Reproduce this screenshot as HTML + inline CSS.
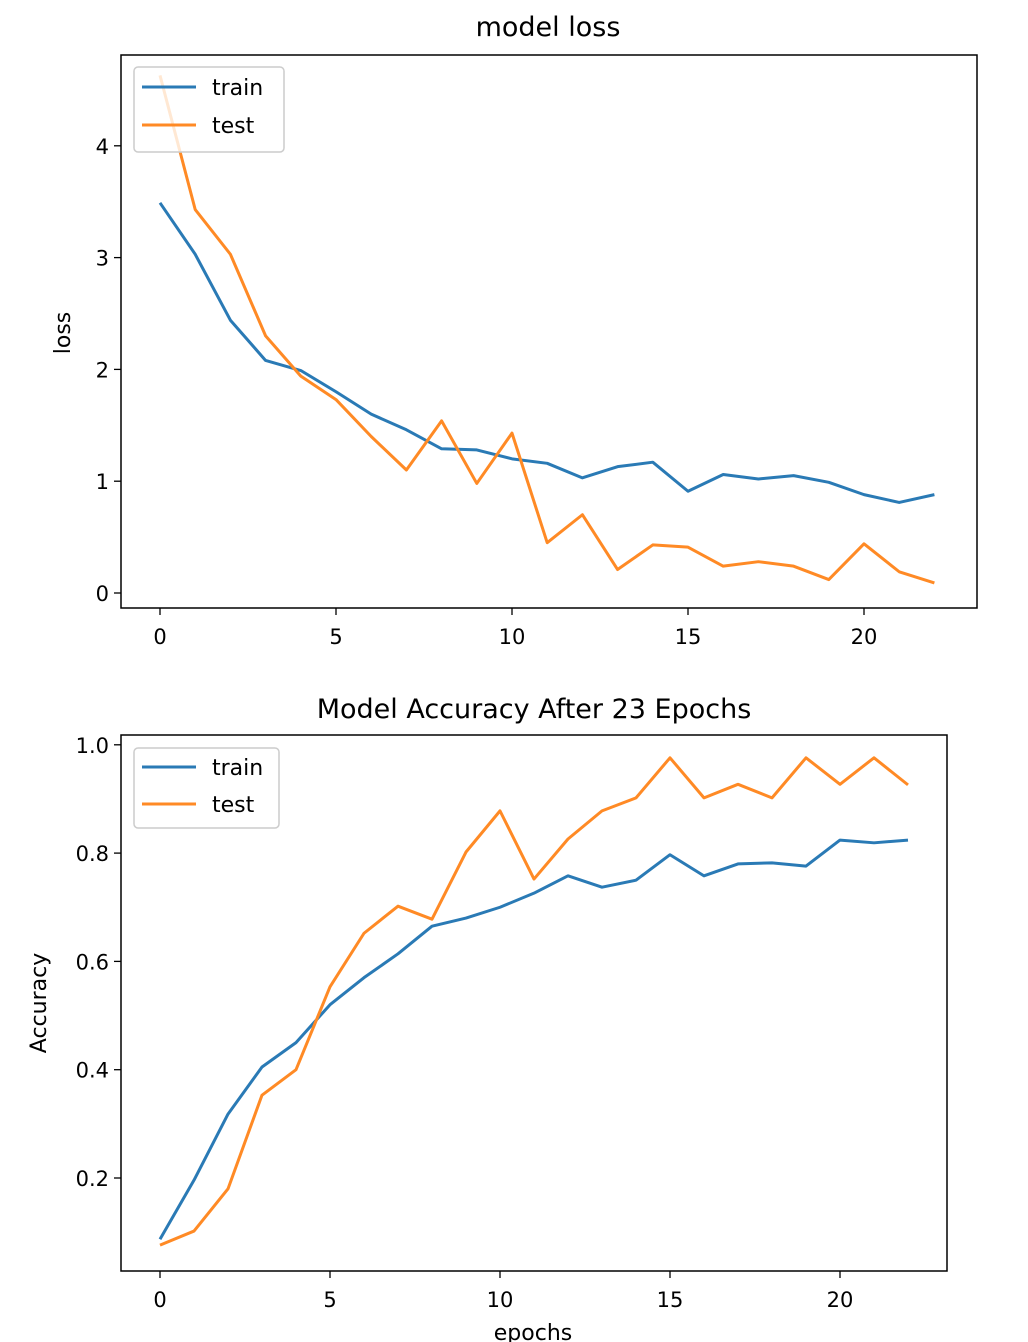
<!DOCTYPE html>
<html><head><meta charset="utf-8">
<style>
body{margin:0;background:#fff;}
svg{display:block;font-family:"DejaVu Sans","Liberation Sans",sans-serif;}
</style></head>
<body>
<svg id="chart" width="1028" height="1342"></svg>
<script>
const epochs=[...Array(23).keys()];
const lossTrain=[3.49,3.03,2.44,2.08,1.99,1.80,1.60,1.46,1.29,1.28,1.20,1.16,1.03,1.13,1.17,0.91,1.06,1.02,1.05,0.99,0.88,0.81,0.88];
const lossTest=[4.63,3.43,3.03,2.30,1.94,1.73,1.40,1.10,1.54,0.98,1.43,0.45,0.70,0.21,0.43,0.41,0.24,0.28,0.24,0.12,0.44,0.19,0.09];
const accTrain=[0.087,0.196,0.318,0.405,0.45,0.52,0.57,0.614,0.665,0.68,0.70,0.726,0.758,0.737,0.75,0.797,0.758,0.78,0.782,0.776,0.824,0.819,0.824];
const accTest=[0.076,0.102,0.18,0.353,0.40,0.553,0.652,0.702,0.678,0.802,0.878,0.752,0.826,0.878,0.902,0.976,0.902,0.927,0.902,0.976,0.927,0.976,0.926];
const xTicks=[0,5,10,15,20];
const lossYTicks=[0,1,2,3,4];
const accYTicks=[0.2,0.4,0.6,0.8,1.0];

const svg=document.getElementById('chart');
const NS='http://www.w3.org/2000/svg';
function mk(tag,attrs,parent){const e=document.createElementNS(NS,tag);for(const k in attrs)e.setAttribute(k,attrs[k]);(parent||svg).appendChild(e);return e;}

function panel(o){
  const g=mk('g',{});
  
  
  const xs=v=>o.x0px+(v-o.xv0)*o.xpx;
  const ys=v=>o.y0px-(v-o.yv0)*o.ypx;
  const fr=mk('rect',{x:o.box[0],y:o.box[1],width:o.box[2]-o.box[0],height:o.box[3]-o.box[1],fill:'none',stroke:'#000','stroke-width':1.5},g);
  
  
  xTicks.forEach(t=>{
    const x=xs(t);
    mk('line',{x1:x,x2:x,y1:o.box[3],y2:o.box[3]+7,stroke:'#000','stroke-width':1.3},g);
    const tx=mk('text',{x:x,y:o.box[3]+36,'font-size':21,'text-anchor':'middle'},g);
    tx.textContent=t;
    
    
  });
  o.yTicks.forEach(t=>{
    const y=ys(t);
    mk('line',{x1:o.box[0]-7,x2:o.box[0],y1:y,y2:y,stroke:'#000','stroke-width':1.3},g);
    const tx=mk('text',{x:o.box[0]-12,y:y+8,'font-size':21,'text-anchor':'end'},g);
    tx.textContent=o.fmt(t);
    
    
  });
  const series=[[o.train,'#2a7ab5','train-line'],[o.test,'#ff8a25','test-line']];
  series.forEach(([d,c,n])=>{
    const p=mk('polyline',{points:d.map((v,i)=>xs(epochs[i])+','+ys(v)).join(' '),fill:'none',stroke:c,'stroke-width':3,'stroke-linejoin':'round'},g);
    
    
  });
  const t=mk('text',{x:o.titleX,y:o.titleY,'font-size':27,'text-anchor':'middle'},g);
  t.textContent=o.title;
  
  
  const yl=mk('text',{x:0,y:0,'font-size':22,'text-anchor':'middle',transform:`translate(${o.ylx},${o.yly}) rotate(-90)`},g);
  yl.textContent=o.ylabel;
  
  
  const L=o.leg;
  const lg=mk('g',{},g);
  
  
  mk('rect',{x:L[0],y:L[1],width:L[2],height:L[3],rx:4,fill:'#fff','fill-opacity':0.8,stroke:'#ccc','stroke-width':1.5},lg);
  [['train','#2a7ab5'],['test','#ff8a25']].forEach(([lab,c],i)=>{
    const yy=L[1]+L[4]+i*L[5];
    const e=mk('g',{},lg);
    
    
    mk('line',{x1:L[0]+8,x2:L[0]+62,y1:yy,y2:yy,stroke:c,'stroke-width':3},e);
    const tt=mk('text',{x:L[0]+78,y:yy+8,'font-size':22},e);
    tt.textContent=lab;
  });
}

panel({name:'loss-panel',box:[121,55,977,608],x0px:160,xv0:0,xpx:35.2,y0px:593,yv0:0,ypx:111.8,
  yTicks:lossYTicks,fmt:v=>String(v),train:lossTrain,test:lossTest,title:'model loss',titleX:548,titleY:36,
  ylabel:'loss',ylx:70,yly:333,leg:[134,67,150,85,20,38]});
panel({name:'accuracy-panel',box:[121,735,947,1271],x0px:160,xv0:0,xpx:34,y0px:1178,yv0:0.2,ypx:541.5,
  yTicks:accYTicks,fmt:v=>v.toFixed(1),train:accTrain,test:accTest,title:'Model Accuracy After 23 Epochs',titleX:534,titleY:718,
  ylabel:'Accuracy',ylx:46,yly:1003,leg:[134,748,145,80,19,37]});
const xl=mk('text',{x:533,y:1340,'font-size':22,'text-anchor':'middle'});
xl.textContent='epochs';


</script>
</body></html>
